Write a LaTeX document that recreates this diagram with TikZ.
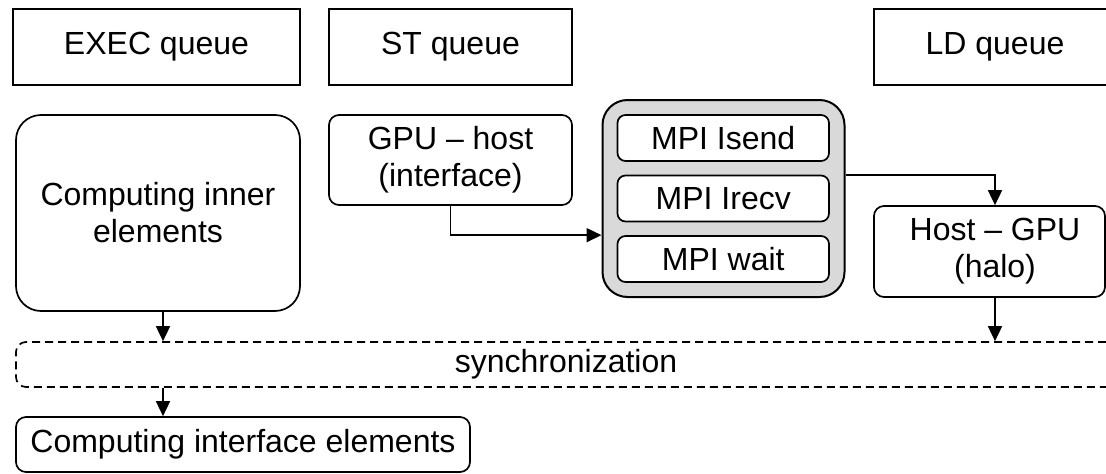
\documentclass[tikz,border=0pt]{standalone}
\usepackage{fontspec}
\setmainfont{Liberation Sans}
\usetikzlibrary{arrows.meta}
\definecolor{mpigray}{RGB}{217,217,217}
\begin{document}
\begin{tikzpicture}[x=1pt,y=-1pt,
  box/.style={draw=black, line width=1.7pt, inner sep=0pt, align=center,
    font=\fontsize{32}{37}\selectfont},
  txt/.style={inner sep=0pt, align=center, font=\fontsize{32}{37}\selectfont},
  arr/.style={line width=1.7pt, -{Triangle[length=15pt,width=14pt]}}]
\clip (0,0) rectangle (1106,474);
\fill[white] (0,0) rectangle (1106,474);
% queues
\node[box, minimum width=287, minimum height=76] (exec) at (156.5,47) {EXEC queue};
\node[box, minimum width=243, minimum height=76] (st) at (450.5,47) {ST queue};
\node[box, minimum width=242, minimum height=76] (ld) at (995,47) {LD queue};
% tasks
\node[box, rounded corners=25, minimum width=284, minimum height=196] (inner) at (158,213) {Computing inner\\elements};
\node[box, rounded corners=10, minimum width=243, minimum height=90] (gh) at (450.5,160) {GPU -- host\\(interface)};
\node[box, rounded corners=25, fill=mpigray, line width=2pt, minimum width=242, minimum height=197] (mpi) at (723.5,198.5) {};
\node[box, rounded corners=8, fill=white, minimum width=211.5, minimum height=46] (isend) at (723.25,138) {MPI Isend};
\node[box, rounded corners=8, fill=white, minimum width=211.5, minimum height=46] (irecv) at (723.25,198.5) {MPI Irecv};
\node[box, rounded corners=8, fill=white, minimum width=211.5, minimum height=46] (wait) at (723.25,259) {MPI wait};
\node[box, rounded corners=10, minimum width=231, minimum height=91] (hg) at (989.5,251.5) {};
\node[txt] (hgt) at (995,251.5) {Host -- GPU\\(halo)};
\node[box, rounded corners=10, dashed, dash pattern=on 8pt off 5pt, minimum width=1100, minimum height=45] (sync) at (566,364.5) {synchronization};
\node[box, rounded corners=10, minimum width=454, minimum height=55] (bot) at (243,444.5) {Computing interface elements};
% connectors
\coordinate (ia) at ([xshift=5]inner.south);
\draw[arr] (gh.south) |- (mpi.west |- wait.north);
\draw[arr] (mpi.east |- irecv.north) -| (hg.north -| hgt);
\draw[arr] (hg.south -| hgt) -- (sync.north -| hgt);
\draw[arr] (ia) -- (sync.north -| ia);
\draw[arr] (sync.south -| ia) -- (bot.north -| ia);
\end{tikzpicture}
\end{document}
